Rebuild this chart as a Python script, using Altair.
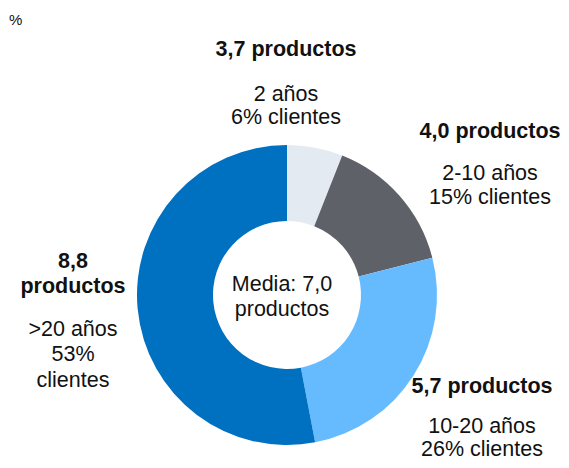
import altair as alt
import pandas as pd

categorias = ["2 años", "2-10 años", "10-20 años", ">20 años"]
clientes = [6, 15, 26, 53]
productos = ["3,7", "4,0", "5,7", "8,8"]
colores = ["#e3eaf2", "#5f6169", "#66bbff", "#0070c0"]

df = pd.DataFrame({"cat": categorias, "clientes": clientes, "orden": [0, 1, 2, 3]})

W, H = 553, 452
CX, CY = 279, 287

donut = alt.Chart(df).mark_arc(outerRadius=150, innerRadius=74, stroke=None).encode(
    theta=alt.Theta("clientes:Q", stack=True),
    order=alt.Order("orden:Q"),
    color=alt.Color("cat:N", scale=alt.Scale(domain=categorias, range=colores), legend=None),
    x=alt.value(CX), y=alt.value(CY),
)

FONT = "Liberation Sans"

def txt(s, x, y, size=21.5, bold=False, align="center"):
    return alt.Chart(pd.DataFrame({"t": [s]})).mark_text(
        font=FONT, fontSize=size, fontWeight="bold" if bold else "normal",
        align=align, baseline="middle", color="#111111",
    ).encode(text="t:N", x=alt.value(x), y=alt.value(y))

labels = [
    txt("%", 1, 12, size=15, align="left"),
    txt(f"{productos[0]} productos", 278, 42, bold=True),
    txt(categorias[0], 278, 87),
    txt(f"{clientes[0]}% clientes", 278, 110),
    txt(f"{productos[1]} productos", 482, 124, bold=True),
    txt(categorias[1], 482, 166),
    txt(f"{clientes[1]}% clientes", 482, 190),
    txt(productos[3], 65, 254, bold=True),
    txt("productos", 65, 279, bold=True),
    txt(categorias[3], 65, 322),
    txt(f"{clientes[3]}%", 65, 347),
    txt("clientes", 65, 373),
    txt(f"{productos[2]} productos", 474, 379, bold=True),
    txt(categorias[2], 474, 419),
    txt(f"{clientes[2]}% clientes", 474, 442),
    txt("Media: 7,0", 274, 277),
    txt("productos", 274, 302),
]

chart = alt.layer(donut, *labels).properties(
    width=W, height=H, padding=0, autosize="none"
).configure_view(stroke=None)

chart.save("out.html", embed_options={"renderer": "svg", "actions": False})
